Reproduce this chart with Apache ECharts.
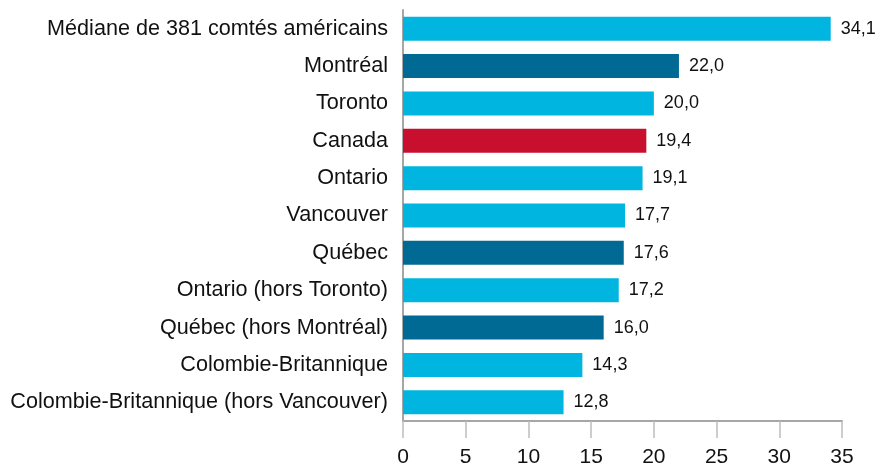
<!DOCTYPE html>
<html>
<head>
<meta charset="utf-8">
<script src="https://cdn.jsdelivr.net/npm/echarts@6/dist/echarts.min.js"></script>
<style>
  html, body { margin: 0; padding: 0; background: #fff; }
  #myChart { width: 881px; height: 468px; }
</style>
</head>
<body>
<div id="myChart"></div>
<script>
// categories listed top to bottom
const categories = [
  "Médiane de 381 comtés américains",
  "Montréal",
  "Toronto",
  "Canada",
  "Ontario",
  "Vancouver",
  "Québec",
  "Ontario (hors Toronto)",
  "Québec (hors Montréal)",
  "Colombie-Britannique",
  "Colombie-Britannique (hors Vancouver)"
];
const values = [34.1, 22.0, 20.0, 19.4, 19.1, 17.7, 17.6, 17.2, 16.0, 14.3, 12.8];
// colour group of each bar: light, dark (Québec), red (Canada)
const groups = ["light", "dark", "light", "red", "light", "light", "dark", "light", "dark", "light", "light"];
const xTicks = [0, 5, 10, 15, 20, 25, 30, 35];

const colors = { light: "#00b5e0", dark: "#006a94", red: "#c8102e" };
const font = "'Liberation Sans', Arial, Helvetica, sans-serif";

let myChart = echarts.init(document.getElementById("myChart"));
myChart.setOption({
  animation: false,
  grid: { left: 403, right: 39, top: 10, bottom: 44, containLabel: false },
  xAxis: {
    type: "value",
    min: xTicks[0],
    max: xTicks[xTicks.length - 1],
    interval: 5,
    splitLine: { show: false },
    axisLine: { show: true, lineStyle: { color: "#a6a6a6", width: 2 } },
    axisTick: { show: true, length: 17, lineStyle: { color: "#bdbdbd", width: 1.5 } },
    axisLabel: { color: "#111", fontSize: 21, fontFamily: font, margin: 26 }
  },
  yAxis: {
    type: "category",
    inverse: true,
    data: categories,
    axisLine: { show: true, lineStyle: { color: "#a6a6a6", width: 2 } },
    axisTick: { show: false },
    axisLabel: { color: "#111", fontSize: 21.6, fontFamily: font, margin: 15 }
  },
  series: [
    {
      type: "bar",
      barWidth: 24,
      data: values.map((v, i) => ({
        value: v,
        itemStyle: { color: colors[groups[i]] }
      })),
      label: {
        show: true,
        position: "right",
        distance: 10,
        color: "#111",
        fontSize: 18,
        fontFamily: font,
        formatter: p => p.value.toFixed(1).replace(".", ",")
      }
    }
  ]
});
</script>
</body>
</html>
